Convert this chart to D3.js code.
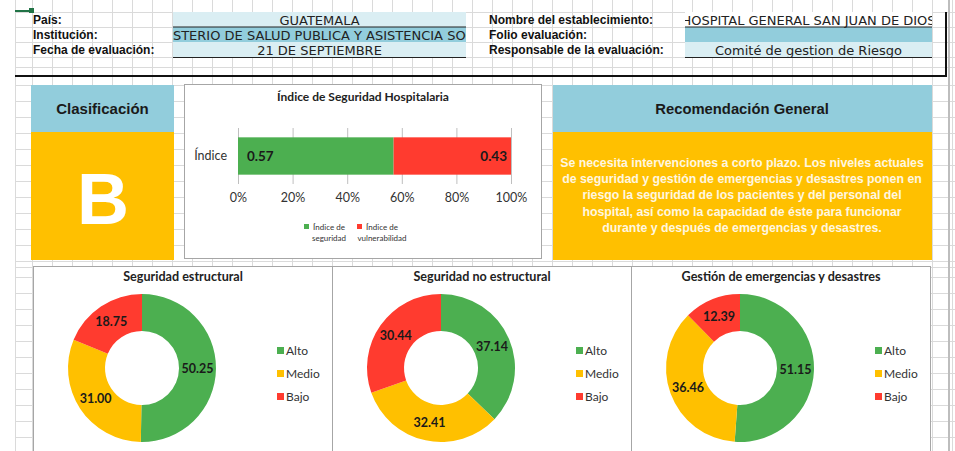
<!DOCTYPE html>
<html>
<head>
<meta charset="utf-8">
<script src="https://cdn.jsdelivr.net/npm/d3@7.9.0/dist/d3.min.js"></script>
<style>
  body { margin: 0; background: #fff; }
  svg { display: block; }
</style>
</head>
<body>
<script>
// ---- data ----
const headerLabelsLeft = ['País:', 'Institución:', 'Fecha de evaluación:'];
const headerValuesLeft = ['GUATEMALA', 'MINISTERIO DE SALUD PUBLICA Y ASISTENCIA SOCIAL', '21 DE SEPTIEMBRE'];
const headerLabelsRight = ['Nombre del establecimiento:', 'Folio evaluación:', 'Responsable de la evaluación:'];
const headerValuesRight = ['HOSPITAL GENERAL SAN JUAN DE DIOS', '', 'Comité de gestion de Riesgo'];

const classification = 'B';
const recommendationLines = [
  'Se necesita intervenciones a corto plazo. Los niveles actuales',
  'de seguridad y gestión de emergencias y desastres ponen en',
  'riesgo la seguridad de los pacientes y del personal del',
  'hospital, así como la capacidad de éste para funcionar',
  'durante y después de emergencias y desastres.'
];

const indexCategory = ['Índice'];
const indexKeys = ['Índice de seguridad', 'Índice de vulnerabilidad'];
const indexValues = [0.57, 0.43];
const indexTicks = [0, 0.2, 0.4, 0.6, 0.8, 1];

const levels = ['Alto', 'Medio', 'Bajo'];
const donutTitles = ['Seguridad estructural', 'Seguridad no estructural', 'Gestión de emergencias y desastres'];
const estructural = [50.25, 31.00, 18.75];
const noEstructural = [37.14, 32.41, 30.44];
const gestion = [51.15, 36.46, 12.39];

// ---- styles ----
const GREEN = '#4caf50', YELLOW = '#ffc000', RED = '#ff3b2f';
const BLUE = '#92cddc', LIGHTBLUE = '#daeef3';
const chartFont = 'Lato, "Open Sans", sans-serif';
const cellFont = '"Liberation Sans", Arial, sans-serif';

const W = 955, H = 451;
const svg = d3.select('body').append('svg').attr('width', W).attr('height', H);
svg.append('rect').attr('width', W).attr('height', H).attr('fill', '#fff');

// spreadsheet grid
const grid = svg.append('g').attr('stroke', '#dadada').attr('stroke-width', 1);
const colXs = [15].concat(d3.range(32, W, 20));
const rowYs = d3.range(12, 70, 15).concat([67]).concat(d3.range(85, H, 16)).concat([267]);
grid.selectAll('.v').data(colXs).join('line')
  .attr('x1', d => d + 0.5).attr('x2', d => d + 0.5).attr('y1', 0).attr('y2', H);
grid.selectAll('.h').data(rowYs).join('line')
  .attr('x1', 15).attr('x2', W).attr('y1', d => d + 0.5).attr('y2', d => d + 0.5);

// active cell marker
svg.append('line').attr('x1', 15).attr('x2', 31).attr('y1', 11).attr('y2', 11)
  .attr('stroke', '#217346').attr('stroke-width', 2);
svg.append('rect').attr('x', 29).attr('y', 8).attr('width', 5).attr('height', 5).attr('fill', '#217346');

// ---- header block ----
const rowTop = [12, 27, 42];
const rowH = 15;
const leftFills = [LIGHTBLUE, BLUE, LIGHTBLUE];
const rightFills = ['#fff', BLUE, LIGHTBLUE];

function headerSide(labels, values, fills, labelX, x0, x1, id) {
  const g = svg.append('g');
  g.selectAll('rect.cell').data(fills).join('rect')
    .attr('x', x0).attr('y', (d, i) => rowTop[i]).attr('width', x1 - x0).attr('height', rowH)
    .attr('fill', d => d);
  g.selectAll('text.lab').data(labels).join('text')
    .attr('x', labelX).attr('y', (d, i) => rowTop[i] + 11.5)
    .attr('font-family', cellFont).attr('font-weight', 'bold').attr('font-size', 12)
    .attr('fill', '#111').text(d => d);
  svg.append('clipPath').attr('id', id).append('rect')
    .attr('x', x0).attr('y', 10).attr('width', x1 - x0).attr('height', 50);
  g.append('g').attr('clip-path', `url(#${id})`)
    .selectAll('text').data(values).join('text')
    .attr('x', (x0 + x1) / 2).attr('y', (d, i) => rowTop[i] + 12.5)
    .attr('text-anchor', 'middle')
    .attr('font-family', '"DejaVu Sans", Verdana, sans-serif').attr('font-size', 13)
    .attr('fill', '#222').text(d => d);
}
headerSide(headerLabelsLeft, headerValuesLeft, leftFills, 33, 173, 466, 'clipL');
headerSide(headerLabelsRight, headerValuesRight, rightFills, 489, 685, 932, 'clipR');

// underline borders
[[173, 466, 27], [173, 466, 57.5], [685, 932, 27], [685, 932, 57.5]].forEach(([a, b, y]) => {
  svg.append('line').attr('x1', a).attr('x2', b).attr('y1', y).attr('y2', y)
    .attr('stroke', '#222').attr('stroke-width', 1.2);
});

// frame: thick bottom + right edge with shadow
svg.append('line').attr('x1', 949).attr('x2', 949).attr('y1', 0).attr('y2', H)
  .attr('stroke', '#bdbdbd').attr('stroke-width', 2);
svg.append('line').attr('x1', 15).attr('x2', 947).attr('y1', 76).attr('y2', 76)
  .attr('stroke', '#111').attr('stroke-width', 2);
svg.append('line').attr('x1', 946).attr('x2', 946).attr('y1', 12).attr('y2', 77)
  .attr('stroke', '#111').attr('stroke-width', 2);

// ---- Clasificación ----
svg.append('rect').attr('x', 31).attr('y', 85).attr('width', 143).attr('height', 47).attr('fill', BLUE);
svg.append('rect').attr('x', 31).attr('y', 132).attr('width', 143).attr('height', 128).attr('fill', YELLOW);
svg.append('text').attr('x', 102.5).attr('y', 114).attr('text-anchor', 'middle')
  .attr('font-family', cellFont).attr('font-weight', 'bold').attr('font-size', 15)
  .attr('fill', '#1a1a1a').text('Clasificación');
svg.append('text').attr('x', 103).attr('y', 224).attr('text-anchor', 'middle')
  .attr('font-family', cellFont).attr('font-weight', 'bold').attr('font-size', 72)
  .attr('fill', '#fff').text(classification);

// ---- Recomendación ----
svg.append('rect').attr('x', 553).attr('y', 85).attr('width', 379).attr('height', 47).attr('fill', BLUE);
svg.append('rect').attr('x', 553).attr('y', 132).attr('width', 379).attr('height', 128).attr('fill', YELLOW);
svg.append('text').attr('x', 742).attr('y', 114).attr('text-anchor', 'middle')
  .attr('font-family', cellFont).attr('font-weight', 'bold').attr('font-size', 14.8)
  .attr('fill', '#1a1a1a').text('Recomendación General');
svg.append('g').selectAll('text').data(recommendationLines).join('text')
  .attr('x', 742).attr('y', (d, i) => 166.5 + i * 16.4).attr('text-anchor', 'middle')
  .attr('font-family', cellFont).attr('font-weight', 'bold').attr('font-size', 12.3)
  .attr('fill', '#fff7e0').text(d => d);

// ---- Índice de Seguridad Hospitalaria (stacked bar) ----
const bar = svg.append('g');
bar.append('rect').attr('x', 184.5).attr('y', 84.5).attr('width', 357).attr('height', 174)
  .attr('fill', '#fff').attr('stroke', '#a6a6a6');
bar.append('text').attr('x', 363).attr('y', 101).attr('text-anchor', 'middle')
  .attr('font-family', chartFont).attr('font-weight', 'bold').attr('font-size', 12)
  .attr('fill', '#222').text('Índice de Seguridad Hospitalaria');

const x = d3.scaleLinear().domain([0, 1]).range([238, 511]);
const y = d3.scaleBand().domain(indexCategory).range([128, 184]).padding(0.2);

const xAxis = bar.append('g').attr('transform', 'translate(0,184)')
  .call(d3.axisBottom(x).tickValues(indexTicks).tickFormat(d3.format('.0%')).tickSize(-56).tickPadding(9));
xAxis.select('.domain').remove();
xAxis.selectAll('.tick line').attr('stroke', '#bfbfbf');
xAxis.selectAll('.tick text').attr('font-family', chartFont).attr('font-size', 12.5).attr('fill', '#333');

const row = { cat: indexCategory[0] };
indexKeys.forEach((k, i) => { row[k] = indexValues[i]; });
const stacked = d3.stack().keys(indexKeys)([row]);
const barColor = d3.scaleOrdinal().domain(indexKeys).range([GREEN, RED]);

bar.selectAll('rect.seg').data(stacked).join('rect')
  .attr('x', s => x(s[0][0])).attr('width', s => x(s[0][1]) - x(s[0][0]))
  .attr('y', y(indexCategory[0])).attr('height', y.bandwidth())
  .attr('fill', s => barColor(s.key));
bar.selectAll('text.val').data(stacked).join('text')
  .attr('x', (s, i) => i === 0 ? x(s[0][0]) + 9 : x(s[0][1]) - 4)
  .attr('y', y(indexCategory[0]) + y.bandwidth() / 2 + 5)
  .attr('text-anchor', (s, i) => i === 0 ? 'start' : 'end')
  .attr('font-family', chartFont).attr('font-weight', 'bold').attr('font-size', 13.5)
  .attr('fill', '#1a1a1a').text(s => d3.format('.2f')(s[0].data[s.key]));
bar.append('text').attr('x', 227).attr('y', y(indexCategory[0]) + y.bandwidth() / 2 + 4)
  .attr('text-anchor', 'end').attr('font-family', chartFont).attr('font-size', 12.5)
  .attr('fill', '#333').text(indexCategory[0]);

// legend
const legX = [304, 357];
indexKeys.forEach((k, i) => {
  const g = bar.append('g').attr('transform', `translate(${legX[i]},224)`);
  g.append('rect').attr('width', 5).attr('height', 5).attr('fill', barColor(k));
  const words = k.split(' ');
  const lines = [words.slice(0, 2).join(' '), words.slice(2).join(' ')];
  g.selectAll('text').data(lines).join('text')
    .attr('x', 25).attr('y', (d, j) => 6 + j * 11).attr('text-anchor', 'middle')
    .attr('font-family', chartFont).attr('font-size', 8).attr('fill', '#333').text(d => d);
});

// ---- donuts ----
const donutSeries = [estructural, noEstructural, gestion];
const panelX = d3.scaleBand().domain(donutTitles).range([33, 930]);
const levelColor = d3.scaleOrdinal().domain(levels).range([GREEN, YELLOW, RED]);
const pie = d3.pie().sort(null).value(d => d);
const arc = d3.arc().innerRadius(37).outerRadius(74);

donutTitles.forEach((title, p) => {
  const px = panelX(title);
  const g = svg.append('g');
  g.append('rect').attr('x', px + 0.5).attr('y', 266.5).attr('width', panelX.bandwidth())
    .attr('height', 200).attr('fill', '#fff').attr('stroke', '#a6a6a6');
  g.append('text').attr('x', px + 150).attr('y', 281).attr('text-anchor', 'middle')
    .attr('font-family', chartFont).attr('font-weight', 'bold').attr('font-size', 12.6)
    .attr('fill', '#222').text(title);

  const cg = g.append('g').attr('transform', `translate(${px + 109},368)`);
  const arcs = pie(donutSeries[p]);
  cg.selectAll('path').data(arcs).join('path')
    .attr('d', arc).attr('fill', (d, i) => levelColor(levels[i]));
  cg.selectAll('text').data(arcs).join('text')
    .attr('transform', d => `translate(${arc.centroid(d)})`)
    .attr('dy', '0.35em').attr('text-anchor', 'middle')
    .attr('font-family', chartFont).attr('font-weight', 'bold').attr('font-size', 12.5)
    .attr('fill', '#1a1a1a').text(d => d3.format('.2f')(d.data));

  const lg = g.append('g').attr('transform', `translate(${px + 244},351)`);
  lg.selectAll('rect').data(levels).join('rect')
    .attr('x', 0).attr('y', (d, i) => i * 23 - 4).attr('width', 7).attr('height', 7)
    .attr('fill', d => levelColor(d));
  lg.selectAll('text').data(levels).join('text')
    .attr('x', 9).attr('y', (d, i) => i * 23 + 4)
    .attr('font-family', chartFont).attr('font-size', 12).attr('fill', '#333').text(d => d);
});
</script>
</body>
</html>
